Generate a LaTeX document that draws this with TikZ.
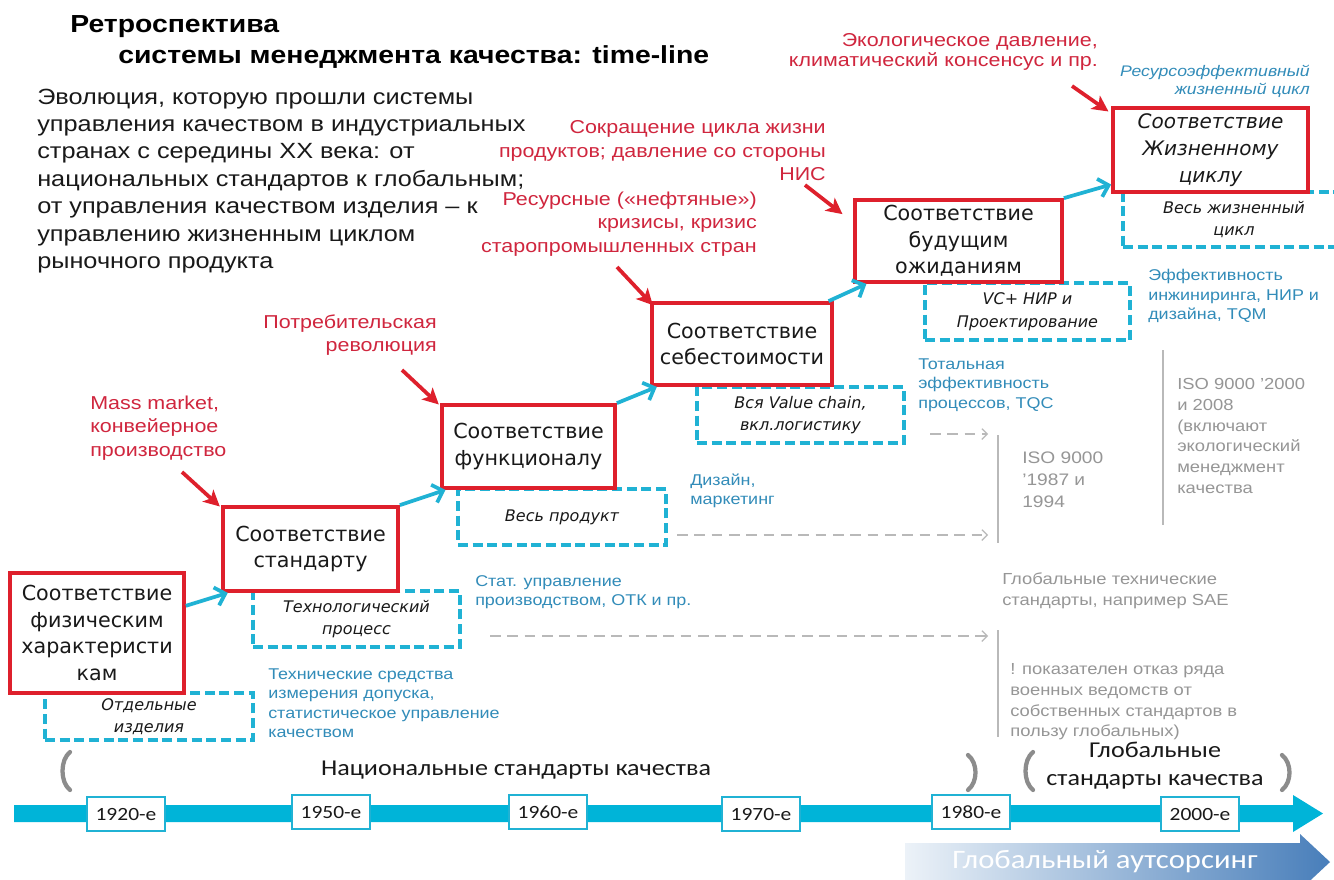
\documentclass[tikz,border=0pt]{standalone}
\usepackage{fontspec}
\setmainfont{Liberation Sans}[FakeStretch=1.15]
\newfontfamily\vfont{DejaVu Sans}
\newfontfamily\cfont{Carlito}[FakeStretch=1.15]
\usetikzlibrary{arrows.meta,calc}
\definecolor{boxred}{RGB}{222,32,44}
\definecolor{labred}{RGB}{208,38,62}
\definecolor{cy}{RGB}{32,178,212}
\definecolor{barc}{RGB}{0,180,216}
\definecolor{bluet}{RGB}{50,140,185}
\definecolor{grayt}{RGB}{150,150,150}
\definecolor{grayl}{RGB}{185,185,185}
\definecolor{brk}{RGB}{140,140,140}
\definecolor{txt}{RGB}{25,25,25}
\begin{document}
\begin{tikzpicture}[x=0.75pt,y=-0.75pt,
  redbox/.style={draw=boxred, line width=2.8pt, inner sep=0pt, align=center, text=txt,
    font=\vfont\fontsize{15.5}{20}\selectfont},
  dashbox/.style={draw=cy, line width=3pt, dash pattern=on 7.5pt off 3.5pt, inner sep=0pt,
    align=center, text=txt, font=\vfont\itshape\fontsize{12}{17}\selectfont},
  redlab/.style={text=labred, inner sep=0pt, font=\fontsize{14}{17.6}\selectfont},
  bluelab/.style={text=bluet, inner sep=0pt, align=left, anchor=west, font=\fontsize{11.7}{14.6}\selectfont},
  graylab/.style={text=grayt, inner sep=0pt, align=left, anchor=west, font=\fontsize{12}{15.5}\selectfont},
  redarr/.style={draw=boxred, line width=2.8pt, -{Stealth[length=12pt,width=12pt,inset=3pt]}},
  bluearr/.style={draw=cy, line width=2.8pt, -{Straight Barb[length=7pt,width=14pt]}},
  grayarr/.style={draw=grayl, line width=0.9pt, dash pattern=on 8pt off 5pt, -{Straight Barb[length=4pt,width=8pt]}},
  grayvline/.style={draw=grayl, line width=1pt},
  yearbox/.style={draw=cy, line width=1.3pt, fill=white, minimum width=58pt, minimum height=26pt,
    inner sep=0pt, text=txt, font=\cfont\fontsize{14}{14}\selectfont},
  bracket/.style={draw=brk, line width=3.2pt, line cap=round},
]
\useasboundingbox (0,0) rectangle (1334,879);
\fill[white] (0,0) rectangle (1334,879);

% title
\node[anchor=base west, inner sep=0pt, font=\bfseries\fontsize{18.5}{22}\selectfont] (t1) at (70,32) {Ретроспектива};
\node[anchor=base west, inner sep=0pt, font=\bfseries\fontsize{18.5}{22}\selectfont] (t2) at (118,63) {системы менеджмента качества: time-line};

% intro paragraph
\node[anchor=west, align=left, inner sep=0pt, text=txt, font=\fontsize{16.5}{20.6}\selectfont] (intro) at (37,181)
 {Эволюция, которую прошли системы\\
  управления качеством в индустриальных\\
  странах с середины XX века: от\\
  национальных стандартов к глобальным;\\
  от управления качеством изделия -- к\\
  управлению жизненным циклом\\
  рыночного продукта};

% dashed boxes (first, so red boxes overlay shared edges)
\node[dashbox, minimum width=156pt, minimum height=35.25pt] (d1) at (149,716.5) {Отдельные\\изделия};
\node[dashbox, minimum width=155.25pt, minimum height=42pt] (d2) at (356.5,619) {Технологический\\процесс};
\node[dashbox, minimum width=156pt, minimum height=42pt] (d3) at (562,517) {Весь продукт};
\node[dashbox, minimum width=155.25pt, minimum height=42pt] (d4) at (800.5,415) {Вся Value chain,\\вкл.логистику};
\node[dashbox, minimum width=153.75pt, minimum height=42.75pt] (d5) at (1027.5,311.5) {VC+ НИР и\\Проектирование};
\node[dashbox, minimum width=166.5pt, minimum height=41.25pt] (d6) at (1234,219.5) {Весь жизненный\\цикл};

% red boxes
\node[redbox, minimum width=130.5pt, minimum height=90pt] (b1) at (97,633) {Соответствие\\физическим\\характеристи\\кам};
\node[redbox, minimum width=131.25pt, minimum height=63pt] (b2) at (310.5,549) {Соответствие\\стандарту};
\node[redbox, minimum width=129.75pt, minimum height=62.25pt] (b3) at (528.5,446.5) {Соответствие\\функционалу};
\node[redbox, minimum width=135pt, minimum height=61.5pt] (b4) at (742,344) {Соответствие\\себестоимости};
\node[redbox, minimum width=155.25pt, minimum height=61.5pt] (b5) at (958.5,241) {Соответствие\\будущим\\ожиданиям};
\node[redbox, minimum width=146.25pt, minimum height=63pt, font=\vfont\itshape\fontsize{15}{20}\selectfont] (b6) at (1210.5,150) {Соответствие\\Жизненному\\циклу};

% blue arrows between stages
\draw[bluearr] ([yshift=-26pt]b1.north east) -- ([xshift=5pt]b2.south west);
\draw[bluearr] (b2.north east) -- ([xshift=4pt]b3.south west);
\draw[bluearr] (b3.north east) -- ([xshift=5pt]b4.south west);
\draw[bluearr] ([xshift=-4pt]b4.north east) -- ([xshift=10pt]b5.south west);
\draw[bluearr] (b5.north east) -- ([yshift=7pt]b6.south west);

% red labels
\node[redlab, align=left, anchor=west] (l1) at (90,428) {Mass market,\\конвейерное\\производство};
\node[redlab, align=right, anchor=east] (l2) at (437,335) {Потребительская\\революция};
\node[redlab, align=right, anchor=east] (l3) at (757,224) {Ресурсные («нефтяные»)\\кризисы, кризис\\старопромышленных стран};
\node[redlab, align=right, anchor=east] (l4) at (826,151) {Сокращение цикла жизни\\продуктов; давление со стороны\\НИС};
\node[redlab, align=right, anchor=east, font=\fontsize{14}{15.5}\selectfont] (l5) at (1098,52) {Экологическое давление,\\климатический консенсус и пр.};

% red arrows
\coordinate (r1) at (182,472);
\coordinate (r2) at (402,370);
\coordinate (r3) at (617,267);
\coordinate (r4) at (805,185);
\coordinate (r5) at (1072,86);
\draw[redarr] (r1) -- ([xshift=-1pt,yshift=-1pt]b2.north west);
\draw[redarr] (r2) -- ([xshift=-1pt,yshift=-1pt]b3.north west);
\draw[redarr] (r3) -- ([xshift=2pt,yshift=-3pt]b4.north west);
\draw[redarr] (r4) -- ([xshift=-8pt,yshift=-12pt]b5.north west);
\draw[redarr] (r5) -- ([xshift=-2pt,yshift=-4pt]b6.north west);

% blue annotations
\node[bluelab] (n1) at (268,703) {Технические средства\\измерения допуска,\\статистическое управление\\качеством};
\node[bluelab] (n2) at (475,592) {Стат. управление\\производством, ОТК и пр.};
\node[bluelab] (n3) at (690,491) {Дизайн,\\маркетинг};
\node[bluelab] (n4) at (918,385) {Тотальная\\эффективность\\процессов, TQC};
\node[bluelab] (n5) at (1148,296) {Эффективность\\инжиниринга, НИР и\\дизайна, TQM};
\node[bluelab, anchor=east, align=right, font=\itshape\fontsize{11.5}{13.5}\selectfont] (n6) at (1310,81) {Ресурсоэффективный\\жизненный цикл};

% gray annotations
\node[graylab] (g1) at (1177,436) {ISO 9000 '2000\\и 2008\\(включают\\экологический\\менеджмент\\качества};
\node[graylab, font=\fontsize{12.5}{16.5}\selectfont] (g2) at (1022,480) {ISO 9000\\'1987 и\\1994};
\node[graylab] (g3) at (1002,591) {Глобальные технические\\стандарты, например SAE};
\node[graylab] (g4) at (1010,702) {! показателен отказ ряда\\военных ведомств от\\собственных стандартов в\\пользу глобальных)};

% gray lines and dashed arrows
\coordinate (v1a) at (998,435); \coordinate (v1b) at (998,543);
\coordinate (v2a) at (1163,350); \coordinate (v2b) at (1163,525);
\coordinate (v3a) at (998,630); \coordinate (v3b) at (998,737);
\draw[grayvline] (v1a) -- (v1b);
\draw[grayvline] (v2a) -- (v2b);
\draw[grayvline] (v3a) -- (v3b);
\coordinate (ga1s) at (930,434); \coordinate (ga1e) at (988,434);
\coordinate (ga2s) at (677,535); \coordinate (ga2e) at (988,535);
\coordinate (ga3s) at (490,636); \coordinate (ga3e) at (988,636);
\draw[grayarr] (ga1s) -- (ga1e);
\draw[grayarr] (ga2s) -- (ga2e);
\draw[grayarr] (ga3s) -- (ga3e);

% brackets and period labels
\draw[bracket] (70,752) .. controls (60,760) and (60,782) .. (70,790);
\draw[bracket] (968,755) .. controls (978,763) and (978,782) .. (968,790);
\draw[bracket] (1033,752) .. controls (1023,760) and (1023,782) .. (1033,790);
\draw[bracket] (1282,755) .. controls (1292,763) and (1292,782) .. (1282,790);
\node[inner sep=0pt, text=txt, font=\cfont\fontsize{17}{20}\selectfont] (nat) at (516,770) {Национальные стандарты качества};
\node[inner sep=0pt, text=txt, align=center, font=\cfont\fontsize{17}{21}\selectfont] (glob) at (1155,766) {Глобальные\\стандарты качества};

% timeline bar
\fill[barc] (14,805) -- (1293,805) -- (1293,795) -- (1323,813.5) -- (1293,832) -- (1293,822) -- (14,822) -- cycle;
\node[yearbox] (y1) at (126,814) {1920-е};
\node[yearbox] (y2) at (331,812) {1950-е};
\node[yearbox] (y3) at (548,812) {1960-е};
\node[yearbox] (y4) at (761,814) {1970-е};
\node[yearbox] (y5) at (971,812) {1980-е};
\node[yearbox] (y6) at (1200,814) {2000-е};

% global outsourcing arrow
\shade[left color={rgb,255:red,236;green,242;blue,248}, right color={rgb,255:red,72;green,126;blue,186}]
  (905,843) -- (1300,843) -- (1300,834) -- (1330,862) -- (1300,890) -- (1300,885) -- (905,885) -- cycle;
\node[inner sep=0pt, text=white, font=\cfont\fontsize{20}{20}\selectfont] (outs) at (1105,862) {Глобальный аутсорсинг};
\end{tikzpicture}
\end{document}
